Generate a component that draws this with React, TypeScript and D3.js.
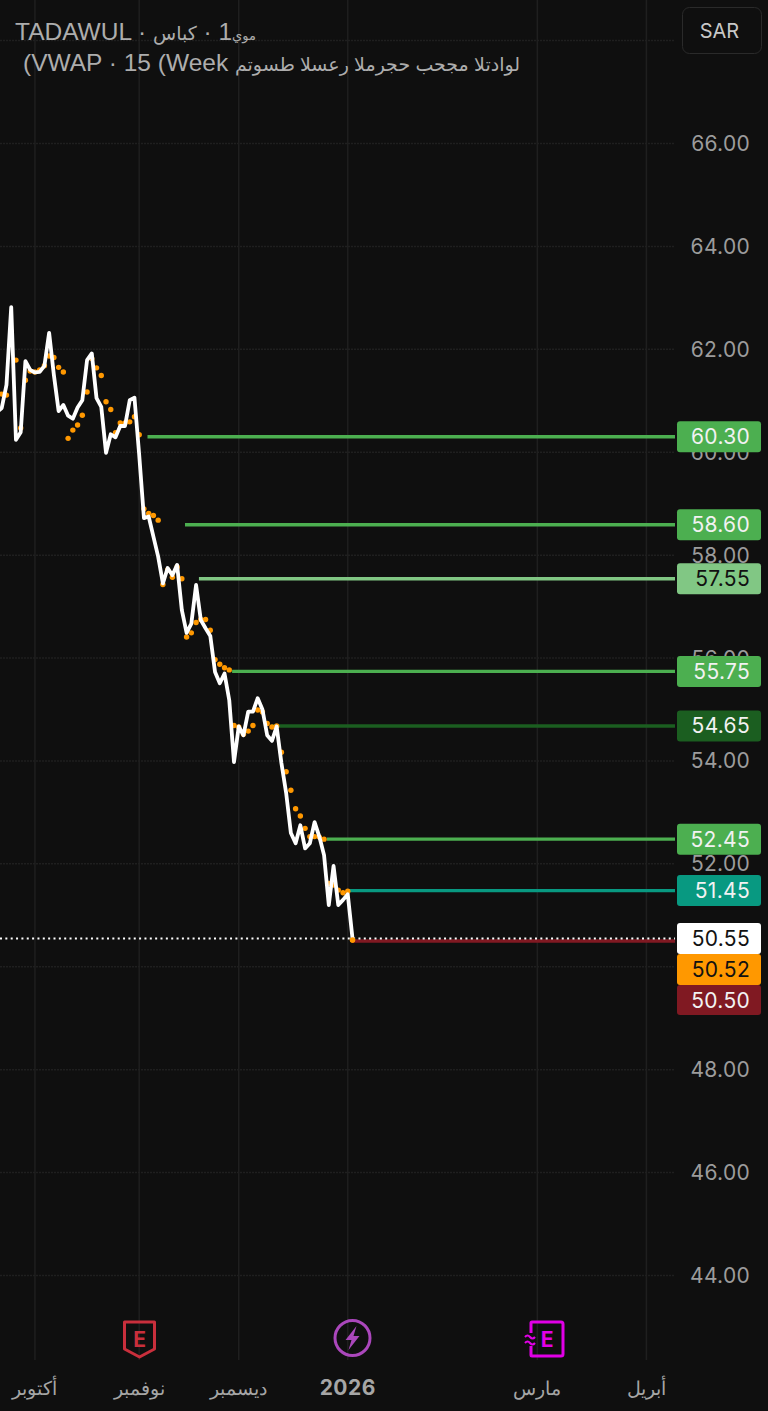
import React from 'react';
import * as d3 from 'd3';

const WIDTH = 768;
const HEIGHT = 1411;

// daily closes, index 0 sits just off the left edge
const closes = [
  60.78, 60.86, 61.31, 62.82, 60.24, 60.39, 61.77, 61.60, 61.55, 61.56,
  61.68, 62.32, 61.50, 60.80, 60.92, 60.71, 60.65, 60.87, 61.01, 61.79,
  61.92, 61.05, 60.88, 59.99, 60.35, 60.29, 60.51, 60.51, 61.01, 61.06,
  59.95, 58.72, 58.75, 58.36, 57.97, 57.45, 57.75, 57.61, 57.81, 56.93,
  56.49, 56.67, 57.42, 56.74, 56.58, 56.43, 55.73, 55.51, 55.70, 55.18,
  53.98, 54.67, 54.50, 54.96, 54.96, 55.22, 55.00, 54.50, 54.39, 54.67,
  53.96, 53.38, 52.60, 52.40, 52.75, 52.30, 52.40, 52.81, 52.53, 52.17,
  51.20, 51.96, 51.20, 51.30, 51.41, 50.55,
];

// the orange dots, first one starts at index 1
const vwap = [
  61.13, 61.11, 62.34, 61.79, 60.47, 61.40, 61.58, 61.56, 61.60,
  61.68, 61.87, 61.84, 61.65, 61.56, 60.27, 60.43, 60.53, 60.72, 61.17,
  61.82, 61.64, 61.49, 60.98, 60.83, 60.38, 60.57, 60.57, 60.59, 60.69,
  60.34, 58.90, 58.81, 58.77, 58.68, 57.43, 57.71, 57.57, 57.77, 57.54,
  56.41, 56.49, 56.69, 56.75, 56.75, 56.54, 55.97, 55.88, 55.81, 55.77,
  54.69, 54.66, 54.52, 54.58, 54.69, 54.99, 54.95, 54.73, 54.66, 54.68,
  54.17, 53.79, 53.43, 53.07, 52.93, 52.69, 52.53, 52.53, 52.52, 52.48,
  51.62, 51.59, 51.49, 51.44, 51.47, 50.52,
];

// levels as they sit on the scale, the tags show them rounded to the tick
const levelValues = [60.30, 58.59, 57.54, 55.74, 54.68, 52.48, 51.48, 50.50];
const levelLabels = ['60.30', '58.60', '57.55', '55.75', '54.65', '52.45', '51.45', '50.50'];
const levelStarts = [31.75, 39.66, 42.6, 49.6, 58, 69.6, 74.3, 74.9];
const levelColors = ['#4caf50', '#4caf50', '#81c784', '#4caf50', '#1b5e20', '#4caf50', '#089981', '#801922'];
const levelText = ['#f2f2f2', '#f2f2f2', '#111111', '#f2f2f2', '#f2f2f2', '#f2f2f2', '#f2f2f2', '#f2f2f2'];

const yTicks = [44, 46, 48, 50, 52, 54, 56, 58, 60, 62, 64, 66];
const yGrid = [...yTicks, 68];

const monthIndex = [8, 30, 51, 74, 114, 137];
const monthLabels = ['أكتوبر', 'نوفمبر', 'ديسمبر', '2026', 'مارس', 'أبريل'];

const lastPrice = 50.55;
const lastVwap = 50.52;

const x = d3.scaleLinear().domain([0, 75]).range([-3, 352.5]);
const y = d3.scaleLinear().domain([66, 44]).range([143.5, 1275.5]);

const FONT = 'Inter, Roboto, sans-serif';
const TITLE_FONT = "'Liberation Sans', 'DejaVu Sans', sans-serif";
const GRID = '#1f1f1f';
const TITLE = '#adadad';

const priceLine = d3.line<number>().x((_, i) => x(i)).y(d => y(d));

const Tag = ({ value, label, fill, color }: { value: number; label: string; fill: string; color: string }) => (
  <g transform={`translate(677,${y(value)})`}>
    <rect x={0} y={-15.5} width={84} height={31} rx={3} fill={fill} />
    <text x={73} y={7.5} textAnchor="end" fontSize={21} letterSpacing={0.3} fontFamily={FONT} fill={color}>
      {label}
    </text>
  </g>
);

export default function App() {
  // 50.55 and 50.52 are drawn flat on their neighbours so they stack
  return (
    <div>
      <style>{'body{margin:0;background:#0f0f0f}'}</style>
      <svg width={WIDTH} height={HEIGHT} style={{ display: 'block', background: '#0f0f0f' }}>
        {monthIndex.map(m => (
          <line key={m} x1={x(m)} x2={x(m)} y1={0} y2={1360} stroke={GRID} strokeWidth={1.5} />
        ))}
        {yGrid.map(t => (
          <line key={t} x1={0} x2={675} y1={y(t)} y2={y(t)} stroke={GRID} strokeWidth={1.5} strokeDasharray="2 1" />
        ))}

        {yTicks.map(t => (
          <text key={t} x={750} y={y(t) + 7.5} textAnchor="end" fontSize={21} letterSpacing={0.3} fontFamily={FONT} fill="#9c9c9c">
            {t.toFixed(2)}
          </text>
        ))}

        <text x={15} y={40} fontSize={24.5} fontFamily={TITLE_FONT} fill={TITLE}>
          TADAWUL ·{' '}
          <tspan fontSize={19}>كباس</tspan>
          {' · \u200E1'}
          <tspan fontSize={13}>موي</tspan>
        </text>
        <text x={23} y={71} fontSize={24.5} fontFamily={TITLE_FONT} fill={TITLE}>
          {'\u200E(VWAP · 15 (Week '}
          <tspan fontSize={19}>لوادتلا مجحب حجرملا رعسلا طسوتم</tspan>
        </text>

        <rect x={682.5} y={7.5} width={79} height={46} rx={7} fill="#0f0f0f" stroke="#2a2a2a" />
        <text x={719.5} y={38} textAnchor="middle" fontSize={20} fontFamily={FONT} fill="#c8c8c8">SAR</text>

        {levelValues.map((v, i) => (
          <line key={v} x1={x(levelStarts[i])} x2={675} y1={y(v)} y2={y(v)} stroke={levelColors[i]} strokeWidth={3.4} />
        ))}

        <line x1={0} x2={675} y1={y(lastPrice)} y2={y(lastPrice)} stroke="#ffffff" strokeWidth={2} strokeDasharray="2 3.35" />

        {vwap.map((v, i) => (
          <circle key={i} cx={x(i + 1)} cy={y(v)} r={2.7} fill="#ff9800" />
        ))}
        <path d={priceLine(closes) ?? ''} fill="none" stroke="#ffffff" strokeWidth={3.8} strokeLinejoin="round" />
        <circle cx={x(75)} cy={y(lastVwap)} r={2.7} fill="#ff9800" />

        {levelValues.slice(0, 7).map((v, i) => (
          <Tag key={v} value={v} label={levelLabels[i]} fill={levelColors[i]} color={levelText[i]} />
        ))}
        <g>
          <rect x={677} y={923} width={84} height={31} rx={3} fill="#ffffff" />
          <text x={750} y={946} textAnchor="end" fontSize={21} letterSpacing={0.3} fontFamily={FONT} fill="#111111">{lastPrice.toFixed(2)}</text>
          <rect x={677} y={954} width={84} height={31} rx={3} fill="#ff9800" />
          <text x={750} y={976.5} textAnchor="end" fontSize={21} letterSpacing={0.3} fontFamily={FONT} fill="#111111">{lastVwap.toFixed(2)}</text>
          <rect x={677} y={985} width={84} height={30} rx={3} fill="#801922" />
          <text x={750} y={1007.5} textAnchor="end" fontSize={21} letterSpacing={0.3} fontFamily={FONT} fill="#f2f2f2">{levelLabels[7]}</text>
        </g>

        {/* earnings shield */}
        <g transform="translate(139.5,1339)" fill="none" stroke="#c92f3c" strokeWidth={3} strokeLinejoin="round">
          <path d="M-15,-17 H15 V10 L0,18 L-15,10 Z" />
          <text x={0} y={8} textAnchor="middle" fontSize={21} fontWeight={700} fontFamily={FONT} fill="#c92f3c" stroke="none">E</text>
        </g>
        {/* dividend bolt */}
        <g transform="translate(352.5,1338)">
          <circle r={17.5} fill="none" stroke="#ab47bc" strokeWidth={3} />
          <path d="M4,-12 L-7,2 L-1,2 L-4,12 L7,-2 L1,-2 Z" fill="#ab47bc" />
        </g>
        {/* estimated earnings */}
        <g transform="translate(546,1339)" fill="none" stroke="#e100e6" strokeWidth={3} strokeLinejoin="round">
          <path d="M-15,-6 V-16 Q-15,-17 -14,-17 H15 Q17,-17 17,-15 V15 Q17,17 15,17 H-14 Q-15,17 -15,16 V7" />
          <path d="M-21,-2 q2.5,-3 5,0 t5,0 M-21,4 q2.5,-3 5,0 t5,0" strokeWidth={2} />
          <text x={1} y={8} textAnchor="middle" fontSize={21} fontWeight={700} fontFamily={FONT} fill="#e100e6" stroke="none">E</text>
        </g>

        {monthLabels.map((label, i) => (
          <text
            key={label}
            x={x(monthIndex[i])}
            y={1395}
            textAnchor="middle"
            fontSize={i === 3 ? 21 : 19}
            fontWeight={i === 3 ? 700 : 400}
            letterSpacing={i === 3 ? 0.5 : 0}
            fontFamily={FONT}
            fill="#a6a6a6"
          >
            {label}
          </text>
        ))}
      </svg>
    </div>
  );
}
